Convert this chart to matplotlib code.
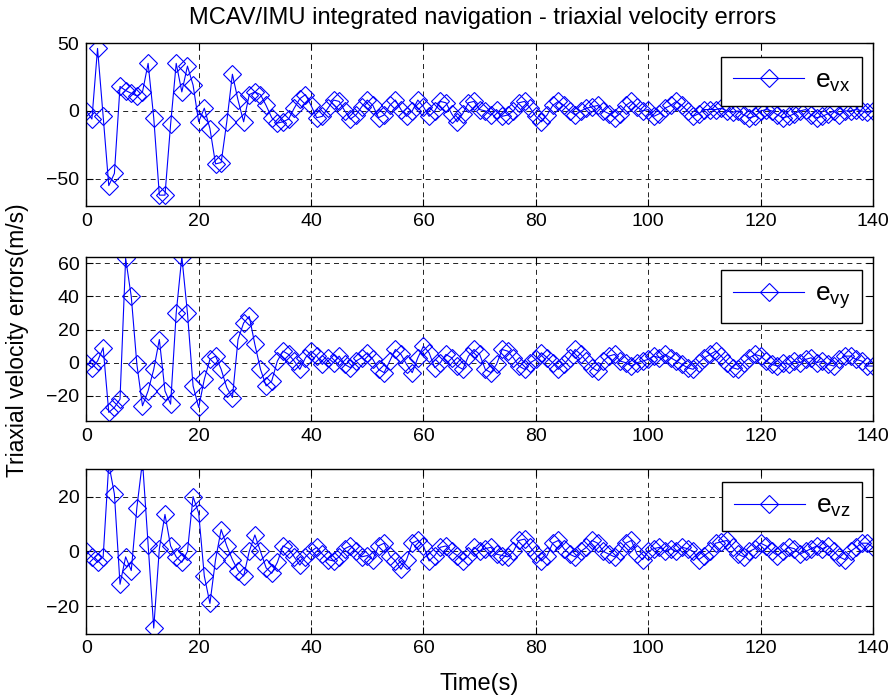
import matplotlib
matplotlib.use("Agg")
import matplotlib.pyplot as plt
import numpy as np

plt.rcParams['font.family'] = ['Liberation Sans', 'DejaVu Sans']

t = list(range(0, 141))

evx = [0, -6, 46, -4, -55, -46, 18, 15, 13, 11, 14, 35, -5, -62, -62, -10, 35, 14, 33, 19,
       -8, 2, -13, -39, -38, -8, 27, 8, -8, 12, 14, 12, 4, -5, -9, -8, -6, 2, 9, 12,
       4, -5, -4, 2, 8, 7, 0, -6, -3, 3, 8, 4, -5, -3, 4, 8, 1, -4, 0, 8,
       3, -4, 0, 7, 6, -2, -8, -2, 6, 7, 1, 0, -3, 1, -4, -3, 0, 6, 7, 2,
       -4, -8, -3, 4, 7, 4, 0, -3, 0, 2, 3, 4, 0, -2, -5, -2, 4, 7, 3, 0,
       1, -4, -2, 2, 4, 7, 4, 0, -4, -2, 1, 1, 1, 2, 0, -1, 0, -3, -5, -4,
       0, 1, 0, -3, -5, -4, -2, 0, 1, -3, -5, -4, -2, 0, -3, 0, 0, 1, 0, -1, 0]

evy = [0, -3, 1, 9, -30, -27, -22, 63, 40, -1, -26, -17, -4, 14, -17, -25, 30, 64, 30, -14,
       -27, -10, 2, 4, -4, -15, -21, 14, 24, 28, 11, -4, -14, -11, 1, 7, 5, 1, -4, 3,
       7, 4, -1, 3, 0, 4, -1, -3, 1, 3, 6, 2, -4, -6, 1, 8, 5, -1, -6, 3,
       10, 6, -3, 0, 5, 3, -2, -4, 4, 8, 5, -4, -6, -1, 8, 7, 3, -2, -4, 0,
       2, 6, 3, 0, -4, -1, 3, 8, 5, 1, -3, -5, 1, 4, 5, 1, 0, -2, 0, 1,
       2, 4, 3, 5, 3, 1, -1, -3, -4, 0, 3, 5, 7, 4, 0, -3, -4, 0, 3, 5,
       4, 1, -1, -2, 0, -1, 1, 0, 2, 3, 0, 1, -1, -2, 2, 4, 4, 2, 1, -2, -2]

evz = [0, -2, -4, -2, 32, 21, -12, -2, -7, 16, 33, 2.5, -28, 1, 13.5, 2, -2, -4, 0, 20,
       14, -9, -19, -3, 8, 2, -3, -7, -9, 0, 6, 0, -6, -8, -4, 2, 1, -2, -5, -2,
       0, 1.5, -1, -3, -3.5, -2, 1, 2, 0, -2, -1.5, -3, 2, 3, -1.5, -3.5, -6.5, -3, 3, 4,
       2, -3.5, -1.5, 1.5, 2, 0, -1.5, -3.5, -1.5, 1.5, 0, 1, 1.5, -1, -1.5, -2, 0, 4, 4.5, 1.5,
       -1, -3.5, -1.5, 3, 4, 1, -1, -2, 0, 1.5, 4, 3, 0, -1, -2, 0, 3, 4, -1, -3,
       0, 1, 1.5, 0, 1, 0, 1.5, 1, 0, -3, -1.5, 0, 3, 3.5, 4, 1.5, -1, -2, 0, 1,
       3, 2, 0, -1.5, 0, 1.5, 1, -1, 0, 1, 2, 1, 2, 0, -2, -3, 0, 1.5, 3, 3, 1.5]

series = [evx, evy, evz]
labels = [r'$\mathregular{e_{vx}}$', r'$\mathregular{e_{vy}}$', r'$\mathregular{e_{vz}}$']
ylims = [(-70, 50), (-35, 64), (-30, 30)]
yticks = [[-50, 0, 50], [-20, 0, 20, 40, 60], [-20, 0, 20]]
xticks = [0, 20, 40, 60, 80, 100, 120, 140]

W, H = 892, 697
fig = plt.figure(figsize=(W / 100, H / 100), dpi=100)
left, right = 86.3, 873.0
boxes = [(43.0, 206.0), (256.7, 420.7), (469.3, 633.5)]
leg_tops = [56.7, 270.0, 482.4]
blue = '#0000FF'

for i, (ys, lab) in enumerate(zip(series, labels)):
    top, bot = boxes[i]
    ax = fig.add_axes([left / W, 1 - bot / H, (right - left) / W, (bot - top) / H])
    ax.plot(t, ys, color=blue, lw=0.8, marker='D', ms=9.5, mfc='none', mec=blue, mew=0.8,
            label=lab, clip_on=True)
    ax.set_xlim(0, 140)
    ax.set_ylim(*ylims[i])
    ax.set_xticks(xticks)
    ax.set_yticks(yticks[i])
    ax.grid(True, color='black', linestyle=(0, (6, 5)), linewidth=0.6)
    ax.tick_params(direction='in', length=5, width=0.8, labelsize=14, top=True, right=True,
                   pad=5)
    for s in ax.spines.values():
        s.set_linewidth(1.0)
        s.set_color('black')
    x1 = (862 - left) / (right - left)
    y1 = (bot - leg_tops[i]) / (bot - top)
    leg = ax.legend(loc='upper right', bbox_to_anchor=(x1, y1), borderaxespad=0,
                    fontsize=19, fancybox=False, edgecolor='black', framealpha=1,
                    handlelength=2.7, handletextpad=0.4, borderpad=0.45)
    leg.get_frame().set_linewidth(1.0)

fig.text(483 / W, 1 - 18 / H, 'MCAV/IMU integrated navigation - triaxial velocity errors',
         ha='center', va='center', fontsize=17)
fig.text(479 / W, 1 - 684 / H, 'Time(s)', ha='center', va='center', fontsize=17)
fig.text(18 / W, 1 - 340 / H, 'Triaxial velocity errors(m/s)', ha='center', va='center',
         rotation=90, fontsize=16.5)

fig.savefig('out.png', dpi=100)
